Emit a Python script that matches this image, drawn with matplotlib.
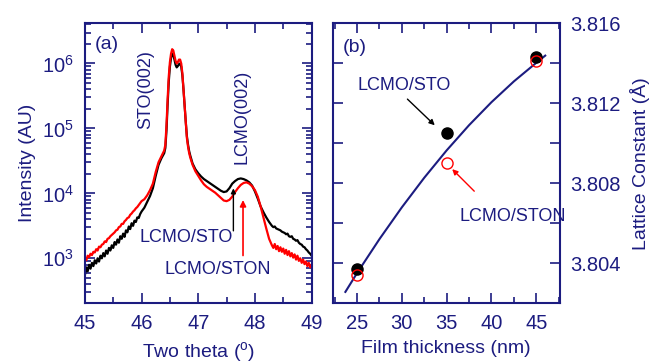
import numpy as np
import matplotlib
matplotlib.use("Agg")
import matplotlib.pyplot as plt
from matplotlib.ticker import FixedLocator, MultipleLocator, LogLocator, NullFormatter

plt.rcParams["font.family"] = ["Liberation Sans", "DejaVu Sans"]
plt.rcParams["mathtext.fontset"] = "custom"
plt.rcParams["mathtext.rm"] = "Liberation Sans"
plt.rcParams["mathtext.default"] = "regular"

NAVY = "#1c1c80"
RED = "#ff0000"

# ---- panel (a): XRD scans, log10(intensity) vs two theta ----
two_theta = np.round(np.concatenate([
    np.arange(45.0, 46.0001, 0.025),
    np.arange(46.05, 46.4001, 0.05),
    np.arange(46.42, 46.8601, 0.02),
    [46.90],
    np.arange(46.95, 48.2501, 0.05),
    np.arange(48.30, 49.0001, 0.025),
]), 3)

log_sto = [
    2.74, 2.86, 2.80, 2.90, 2.84, 2.93, 2.88, 2.97, 2.92, 3.00, 2.95, 3.04, 3.00, 3.08,
    3.03, 3.12, 3.07, 3.16, 3.12, 3.20, 3.16, 3.25, 3.21, 3.29, 3.24, 3.34, 3.30, 3.38,
    3.33, 3.43, 3.40, 3.49, 3.45, 3.54, 3.50, 3.58, 3.56, 3.63, 3.62, 3.68, 3.72,
    3.78, 3.87, 3.96, 4.08, 4.27, 4.44, 4.54, 4.62,
    4.70, 4.97, 5.37, 5.72, 5.95, 6.08, 6.15, 6.14, 6.06, 5.98, 5.94, 5.96, 5.99, 6.00,
    5.95, 5.82, 5.60, 5.35, 5.10, 4.88, 4.75, 4.65, 4.58,
    4.46,
    4.37, 4.31, 4.26, 4.22, 4.19, 4.16, 4.13, 4.10, 4.07, 4.04, 4.02, 4.03, 4.08, 4.15,
    4.19, 4.22, 4.23, 4.22, 4.20, 4.17, 4.12, 4.03, 3.92, 3.80, 3.71, 3.63, 3.56,
    3.50, 3.48, 3.49, 3.46, 3.45, 3.44, 3.43, 3.41, 3.40, 3.39, 3.37, 3.38, 3.34, 3.33,
    3.34, 3.30, 3.29, 3.27, 3.28, 3.24, 3.22, 3.21, 3.18, 3.17, 3.14, 3.12, 3.09, 3.07, 3.04,
]

log_ston = [
    3.00, 2.97, 3.04, 3.02, 3.07, 3.05, 3.10, 3.09, 3.14, 3.12, 3.18, 3.17, 3.21, 3.22,
    3.26, 3.25, 3.30, 3.31, 3.34, 3.36, 3.38, 3.40, 3.43, 3.44, 3.48, 3.49, 3.53, 3.53,
    3.57, 3.59, 3.62, 3.63, 3.67, 3.69, 3.72, 3.74, 3.77, 3.79, 3.82, 3.85, 3.88,
    3.91, 3.97, 4.05, 4.15, 4.33, 4.48, 4.57, 4.66,
    4.75, 5.05, 5.45, 5.80, 6.02, 6.15, 6.22, 6.20, 6.12, 6.04, 6.00, 6.02, 6.06, 6.06,
    6.00, 5.85, 5.60, 5.35, 5.08, 4.85, 4.72, 4.62, 4.55,
    4.44,
    4.34, 4.27, 4.20, 4.14, 4.10, 4.07, 4.04, 4.01, 3.97, 3.93, 3.89, 3.88, 3.90, 3.95,
    4.02, 4.08, 4.13, 4.16, 4.17, 4.15, 4.11, 4.05, 3.95, 3.80, 3.63, 3.46, 3.30,
    3.20, 3.16, 3.22, 3.14, 3.19, 3.11, 3.17, 3.10, 3.15, 3.07, 3.13, 3.05, 3.11, 3.03,
    3.08, 3.01, 3.06, 2.98, 3.04, 2.96, 3.00, 2.93, 2.98, 2.91, 2.95, 2.88, 2.93, 2.86, 2.90,
]

# ---- panel (b): lattice constant vs thickness ----
thickness = [25, 35, 45]
lattice_sto = [3.8037, 3.8105, 3.8143]
lattice_ston = [3.8034, 3.8090, 3.8141]
fit_thickness = [23.7, 25, 27.5, 30, 32.5, 35, 37.5, 40, 42.5, 45, 46]
fit_lattice = [3.80256, 3.8035, 3.80520, 3.80679, 3.80827, 3.80964, 3.81090,
               3.81205, 3.81309, 3.81402, 3.81438]

fig = plt.figure(figsize=(6.63, 3.63), dpi=100)
ax1 = fig.add_axes([0.128, 0.165, 0.342, 0.771])
ax2 = fig.add_axes([0.502, 0.165, 0.342, 0.771])

ax1.plot(two_theta, 10 ** np.array(log_sto), color="black", lw=1.6)
ax1.plot(two_theta, 10 ** np.array(log_ston), color=RED, lw=1.6)
ax1.set_yscale("log")
ax1.set_xlim(45, 49)
ax1.set_ylim(10 ** 2.31, 10 ** 6.62)
ax1.xaxis.set_major_locator(MultipleLocator(1))
ax1.xaxis.set_minor_locator(MultipleLocator(0.5))
ax1.yaxis.set_major_locator(FixedLocator([1e3, 1e4, 1e5, 1e6]))
ax1.yaxis.set_minor_locator(LogLocator(base=10, subs=np.arange(2, 10)))
ax1.yaxis.set_minor_formatter(NullFormatter())
ax1.set_yticklabels([r"$10^{3}$", r"$10^{4}$", r"$10^{5}$", r"$10^{6}$"])
ax1.set_xlabel(r"Two theta ($^{o}$)", fontsize=14, color=NAVY, labelpad=5)
ax1.set_ylabel("Intensity (AU)", fontsize=14, color=NAVY, labelpad=4)

ax1.text(45.18, 10 ** 6.29, "(a)", fontsize=14, color=NAVY, ha="left", va="center")
ax1.text(46.08, 10 ** 5.6, "STO(002)", fontsize=13, color=NAVY, rotation=90, ha="center", va="center")
ax1.text(47.78, 10 ** 5.18, "LCMO(002)", fontsize=13, color=NAVY, rotation=90, ha="center", va="center")
ax1.text(46.79, 10 ** 3.32, "LCMO/STO", fontsize=13, color=NAVY, ha="center", va="center")
ax1.text(47.34, 10 ** 2.82, "LCMO/STON", fontsize=13, color=NAVY, ha="center", va="center")
ax1.annotate("", xy=(47.62, 10 ** 4.12), xytext=(47.62, 10 ** 3.38),
             arrowprops=dict(arrowstyle="-|>", color="black", lw=1, mutation_scale=7))
ax1.annotate("", xy=(47.79, 10 ** 3.94), xytext=(47.79, 10 ** 3.0),
             arrowprops=dict(arrowstyle="-|>", color=RED, lw=1.2, mutation_scale=9))

ax2.plot(fit_thickness, fit_lattice, color=NAVY, lw=1.5)
ax2.plot(thickness, lattice_sto, "o", color="black", ms=8)
ax2.plot(thickness, lattice_ston, "o", mfc="none", mec=RED, mew=1, ms=8)
ax2.set_xlim(22.3, 47.6)
ax2.set_ylim(3.802, 3.816)
ax2.xaxis.set_major_locator(MultipleLocator(5))
ax2.xaxis.set_minor_locator(MultipleLocator(2.5))
ax2.yaxis.set_major_locator(MultipleLocator(0.004))
ax2.yaxis.set_minor_locator(MultipleLocator(0.002))
ax2.yaxis.set_major_formatter(plt.FuncFormatter(lambda v, p: f"{v:.3f}"))
ax2.yaxis.tick_right()
ax2.yaxis.set_label_position("right")
ax2.set_xlabel("Film thickness (nm)", fontsize=14, color=NAVY, labelpad=5)
ax2.set_ylabel("Lattice Constant (Å)", fontsize=14, color=NAVY, labelpad=6)

ax2.text(23.4, 3.8148, "(b)", fontsize=14, color=NAVY, ha="left", va="center")
ax2.text(30.3, 3.8129, "LCMO/STO", fontsize=13, color=NAVY, ha="center", va="center")
ax2.text(42.4, 3.80635, "LCMO/STON", fontsize=13, color=NAVY, ha="center", va="center")
ax2.annotate("", xy=(33.9, 3.8108), xytext=(30.4, 3.8123),
             arrowprops=dict(arrowstyle="-|>", color="black", lw=1, mutation_scale=8))
ax2.annotate("", xy=(35.4, 3.8088), xytext=(38.3, 3.8075),
             arrowprops=dict(arrowstyle="-|>", color=RED, lw=1, mutation_scale=8))

for ax in (ax1, ax2):
    for s in ax.spines.values():
        s.set_color(NAVY)
        s.set_linewidth(1.5)
    ax.tick_params(which="both", direction="in", top=True, right=True, left=True,
                   color=NAVY, labelcolor=NAVY, labelsize=14.5, width=1.2)
    ax.tick_params(which="major", length=7, pad=8)
    ax.tick_params(which="minor", length=4)
ax2.tick_params(which="minor", axis="y", length=7)
ax2.tick_params(labelleft=False, labelright=True)

fig.savefig("out.png", dpi=100)
